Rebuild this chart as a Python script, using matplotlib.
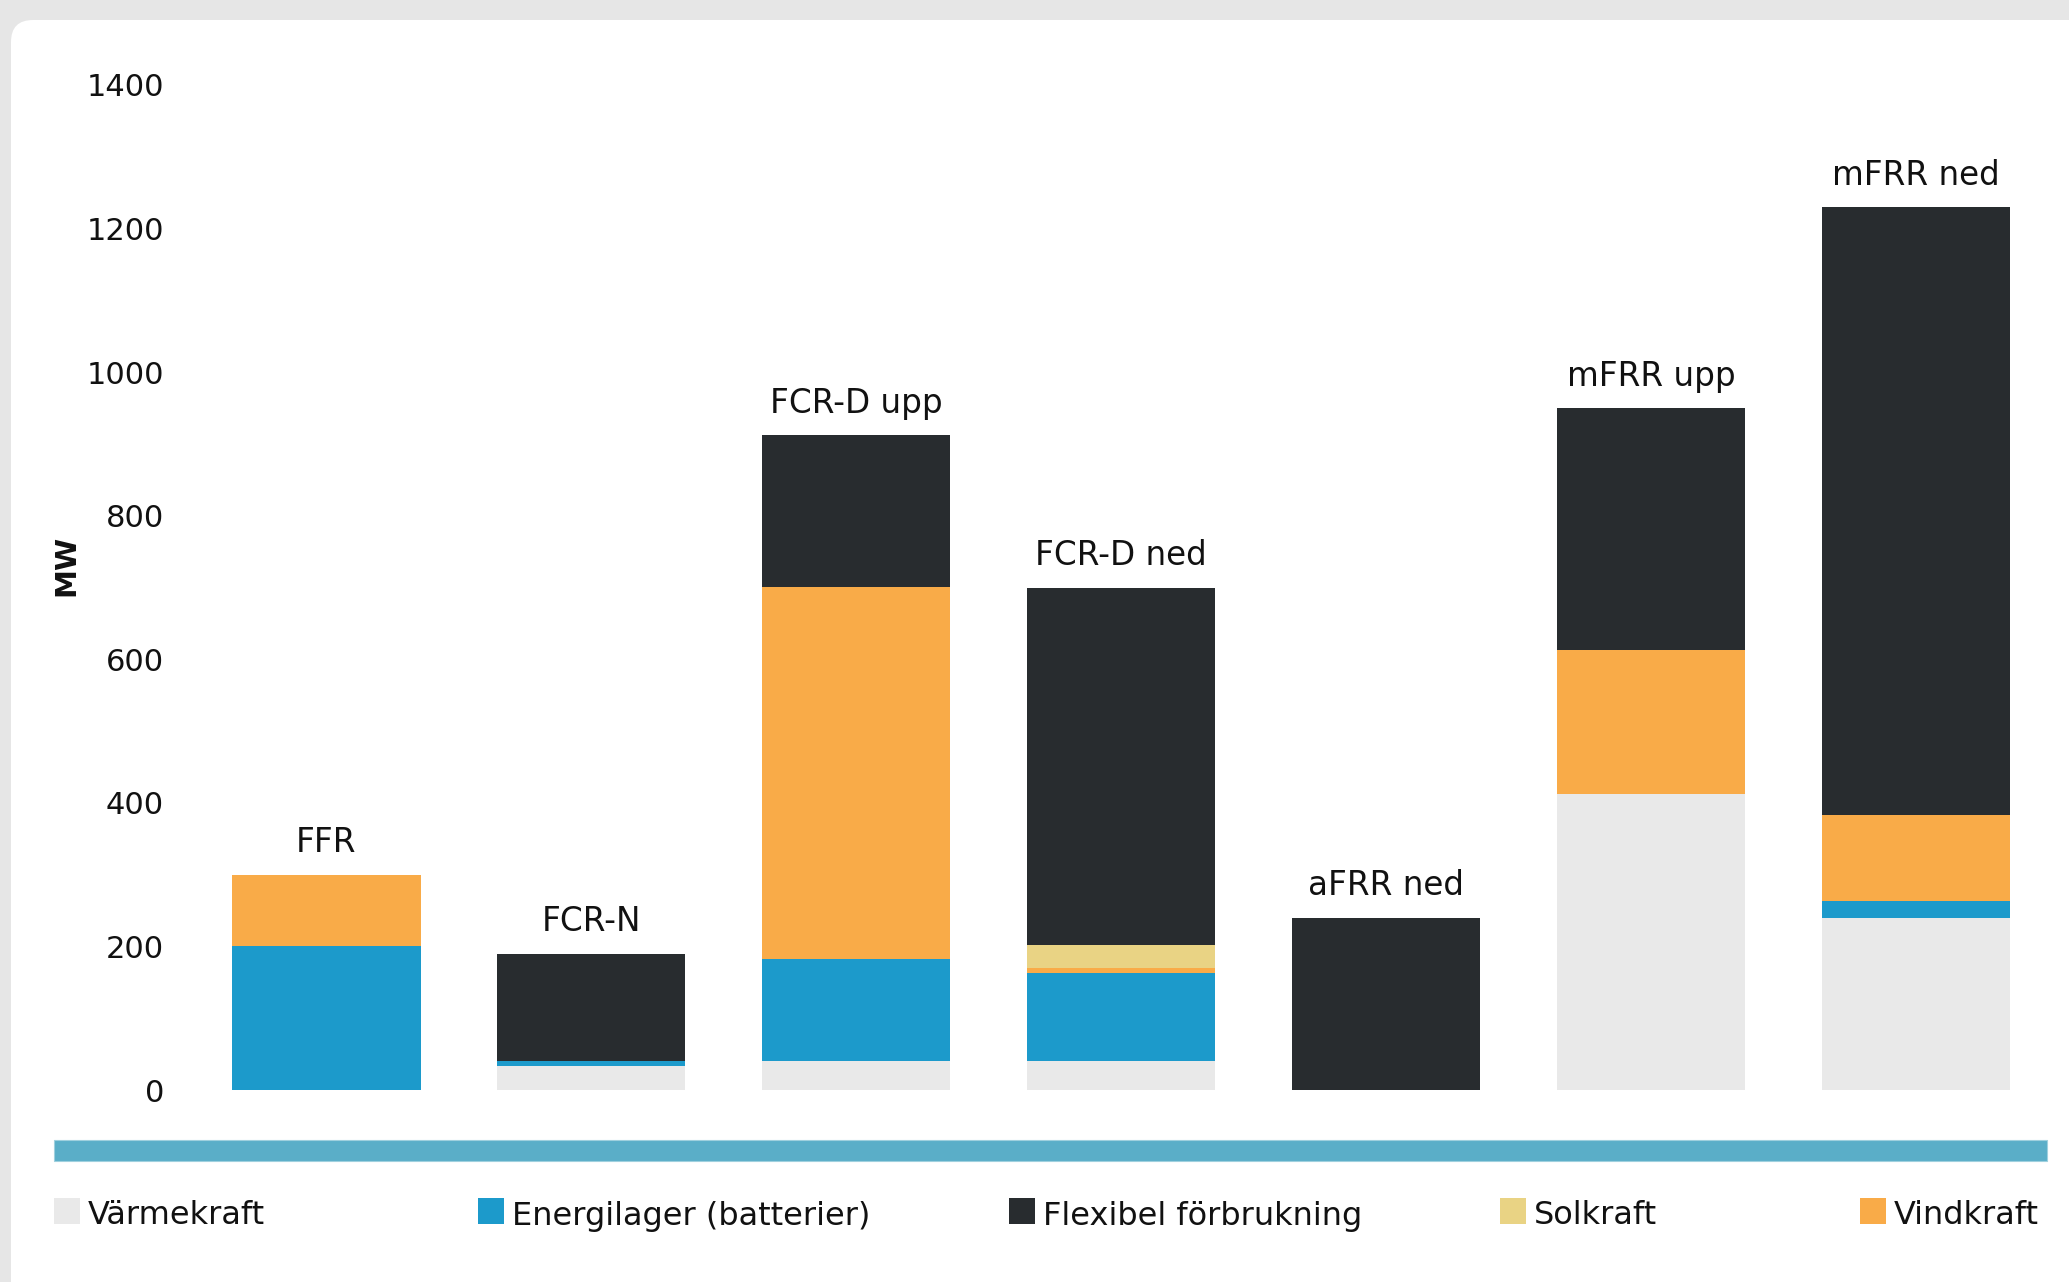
import matplotlib
matplotlib.use("Agg")
import matplotlib.pyplot as plt
import matplotlib.patches as mpatches
from matplotlib.transforms import IdentityTransform

# Kategorier (tjänster)
categories = ["FFR", "FCR-N", "FCR-D upp", "FCR-D ned", "aFRR ned", "mFRR upp", "mFRR ned"]

# MW per kraftslag
varmekraft = [0, 33, 41, 41, 0, 413, 240]
energilager = [200, 7, 141, 122, 0, 0, 23]
vindkraft = [100, 0, 519, 7, 0, 200, 120]
solkraft = [0, 0, 0, 32, 0, 0, 0]
flexibel = [0, 150, 211, 498, 240, 337, 847]

y_ticks = [0, 200, 400, 600, 800, 1000, 1200, 1400]

# staplingsordning nerifrån och upp
stack = [
    ("Värmekraft", varmekraft, "#e9e9e9"),
    ("Energilager (batterier)", energilager, "#1c9acb"),
    ("Vindkraft", vindkraft, "#f9ab48"),
    ("Solkraft", solkraft, "#e9d384"),
    ("Flexibel förbrukning", flexibel, "#282c2f"),
]
legend_order = ["Värmekraft", "Energilager (batterier)", "Flexibel förbrukning", "Solkraft", "Vindkraft"]

FONT = "DejaVu Sans"
plt.rcParams["font.family"] = FONT

W, H = 2069, 1282
fig = plt.figure(figsize=(W / 100, H / 100), dpi=100)
fig.patch.set_facecolor("#e6e6e6")

# vitt kort med rundat hörn
card = mpatches.FancyBboxPatch((11, -60), W + 100, H - 20 + 60,
                               boxstyle="round,pad=0,rounding_size=22",
                               transform=IdentityTransform(),
                               facecolor="white", edgecolor="none", zorder=-5)
fig.patches.append(card)

ax = fig.add_axes([194 / W, 1 - 1090 / H, (2048.5 - 194) / W, (1090 - 85) / H])
ax.set_facecolor("none")
ax.set_zorder(2)

x = list(range(len(categories)))
bottom = [0] * len(categories)
colors = {}
for name, vals, col in stack:
    ax.bar(x, vals, bottom=bottom, width=0.71, color=col, linewidth=0)
    bottom = [b + v for b, v in zip(bottom, vals)]
    colors[name] = col

for i, cat in enumerate(categories):
    ax.annotate(cat, (i, bottom[i]), xytext=(0, 16), textcoords="offset points",
                ha="center", va="baseline", fontsize=23.5, color="#111111")

ax.set_xlim(-0.5, len(categories) - 0.5)
ax.set_ylim(0, 1400)
ax.set_yticks(y_ticks)
ax.set_yticklabels([str(t) for t in y_ticks], fontsize=22, color="#111111")
ax.set_xticks([])
ax.tick_params(axis="y", length=0, pad=21.5)
for s in ax.spines.values():
    s.set_visible(False)

fig.text(66 / W, 1 - 565 / H, "MW", rotation=90, ha="center", va="center",
         fontsize=21, fontweight="bold", color="#111111")

# blå linje under diagrammet
band = mpatches.Rectangle((54, H - 1161), 2047 - 54, 21, transform=IdentityTransform(),
                          facecolor="#5aaec8", edgecolor="#9fd0de", linewidth=0.8)
fig.patches.append(band)

# förklaring
leg_x = [54, 478, 1009, 1500, 1860]
for name, lx in zip(legend_order, leg_x):
    sq = mpatches.Rectangle((lx, H - 1224), 26, 26, transform=IdentityTransform(),
                            facecolor=colors[name], edgecolor="none")
    fig.patches.append(sq)
    fig.text((lx + 34) / W, 1 - 1216 / H, name, ha="left", va="center",
             fontsize=23, color="#111111")

fig.savefig("out.png", dpi=100, facecolor=fig.get_facecolor())
